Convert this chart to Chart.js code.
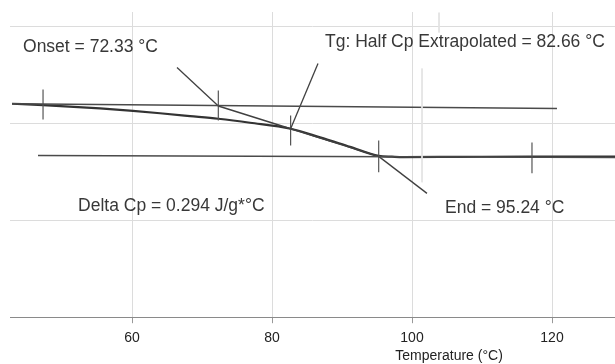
<!DOCTYPE html>
<html>
<head>
<meta charset="utf-8">
<title>DSC glass transition</title>
<script src="https://cdn.jsdelivr.net/npm/chart.js@4/dist/chart.umd.min.js"></script>
<style>
  body { margin: 0; background: #fff; }
  canvas { display: block; }
</style>
</head>
<body>
<canvas id="myChart" width="615" height="364"></canvas>
<script>
// heat flow trace (arbitrary units) vs temperature
const curveTemp = [42.86, 47.29, 55.43, 60.14, 64.0, 68.29, 72.33, 76.86, 82.66, 86.86, 91.14, 95.24, 97.14, 98.71, 106.86, 117.14, 129.0];
const curveFlow = [2.203, 2.189, 2.155, 2.129, 2.105, 2.076, 2.048, 2.007, 1.945, 1.856, 1.758, 1.665, 1.657, 1.653, 1.655, 1.657, 1.657];

const upperBaseTemp = [42.86, 120.71];
const upperBaseFlow = [2.203, 2.155];
const lowerBaseTemp = [46.57, 129.0];
const lowerBaseFlow = [1.670, 1.649];

const tangentTemp = [72.33, 82.66, 95.24];
const tangentFlow = [2.180, 1.9456, 1.660];

// leader lines from labels to points
const onsetLeaderTemp = [66.43, 72.33];
const onsetLeaderFlow = [2.577, 2.180];
const tgLeaderTemp = [86.57, 82.66];
const tgLeaderFlow = [2.619, 1.9456];
const endLeaderTemp = [95.24, 102.14];
const endLeaderFlow = [1.660, 1.278];

// small vertical cursor marks
const markTemp = [47.29, 72.33, 82.66, 95.24, 117.14];
const markTop = [2.351, 2.340, 2.082, 1.825, 1.804];
const markBottom = [2.041, 2.031, 1.773, 1.495, 1.485];

// faint extra lines in the scan
const faintTemp = [101.43, 103.86];
const faintTop = [2.567, 3.144];
const faintBottom = [1.392, 2.938];

const xTicks = [60, 80, 100, 120];
const yGrid = [0, 1, 2, 3];

const labelTexts = ["Onset = 72.33 °C", "Tg: Half Cp Extrapolated = 82.66 °C", "Delta Cp = 0.294 J/g*°C", "End = 95.24 °C"];
const labelTemp = [44.43, 87.57, 52.29, 104.71];
const labelFlow = [2.784, 2.835, 1.144, 1.124];

const axisTitle = "Temperature (°C)";

function toPoints(xs, ys) {
    return xs.map((x, i) => ({ x: x, y: ys[i] }));
}

function verticalSegments(xs, tops, bottoms) {
    let pts = [];
    xs.forEach((x, i) => {
        pts.push({ x: x, y: tops[i] });
        pts.push({ x: x, y: bottoms[i] });
        pts.push({ x: x, y: null });
    });
    return pts;
}

function lineSet(data, color, width) {
    return {
        data: data,
        borderColor: color,
        borderWidth: width,
        pointRadius: 0,
        tension: 0,
        spanGaps: false,
        fill: false
    };
}

const textPlugin = {
    id: 'textLabels',
    afterDraw(chart) {
        const ctx = chart.ctx;
        const x = chart.scales.x;
        const y = chart.scales.y;
        ctx.save();
        ctx.fillStyle = '#383838';
        ctx.font = '17.5px "Liberation Sans", Arial, sans-serif';
        ctx.textAlign = 'left';
        ctx.textBaseline = 'middle';
        labelTexts.forEach((t, i) => {
            ctx.fillText(t, x.getPixelForValue(labelTemp[i]), y.getPixelForValue(labelFlow[i]));
        });
        ctx.font = '14px "Liberation Sans", Arial, sans-serif';
        ctx.fillStyle = '#222';
        ctx.textAlign = 'center';
        ctx.fillText(axisTitle, x.getPixelForValue(105.29), y.getPixelForValue(-0.402));
        ctx.restore();
    }
};

function initChart(chart) {
    return new Chart(chart, {
        type: 'line',
        data: {
            datasets: [
                lineSet(verticalSegments(faintTemp, faintTop, faintBottom), '#e3e3e3', 1),
                lineSet(toPoints(upperBaseTemp, upperBaseFlow), '#4a4a4a', 1.5),
                lineSet(toPoints(lowerBaseTemp, lowerBaseFlow), '#4a4a4a', 1.5),
                lineSet(toPoints(tangentTemp, tangentFlow), '#404040', 1.5),
                lineSet(toPoints(onsetLeaderTemp, onsetLeaderFlow), '#404040', 1.3),
                lineSet(toPoints(tgLeaderTemp, tgLeaderFlow), '#404040', 1.3),
                lineSet(toPoints(endLeaderTemp, endLeaderFlow), '#404040', 1.3),
                lineSet(verticalSegments(markTemp, markTop, markBottom), '#555', 1.2),
                Object.assign(lineSet(toPoints(curveTemp, curveFlow), '#333', 2.2), { cubicInterpolationMode: 'monotone' })
            ]
        },
        options: {
            responsive: false,
            animation: false,
            layout: { padding: { left: 10, top: 12, right: 0, bottom: 10 } },
            plugins: {
                legend: { display: false },
                tooltip: { enabled: false }
            },
            scales: {
                x: {
                    type: 'linear',
                    min: 42.57,
                    max: 129,
                    afterBuildTicks: (axis) => { axis.ticks = xTicks.map((v) => ({ value: v })); },
                    grid: { color: '#dcdcdc', tickLength: 6, tickColor: '#999' },
                    border: { color: '#8a8a8a' },
                    ticks: {
                        padding: 7,
                        color: '#222',
                        font: { family: '"Liberation Sans", Arial, sans-serif', size: 14 }
                    }
                },
                y: {
                    min: 0,
                    max: 3.15,
                    afterBuildTicks: (axis) => { axis.ticks = yGrid.map((v) => ({ value: v })); },
                    grid: { color: '#dcdcdc', drawTicks: false },
                    border: { display: false },
                    ticks: { display: false }
                }
            }
        },
        plugins: [textPlugin]
    });
}

function mainEvent() {
    const chartArea = document.querySelector("#myChart");
    initChart(chartArea);
}

document.addEventListener('DOMContentLoaded', () => mainEvent());
</script>
</body>
</html>
